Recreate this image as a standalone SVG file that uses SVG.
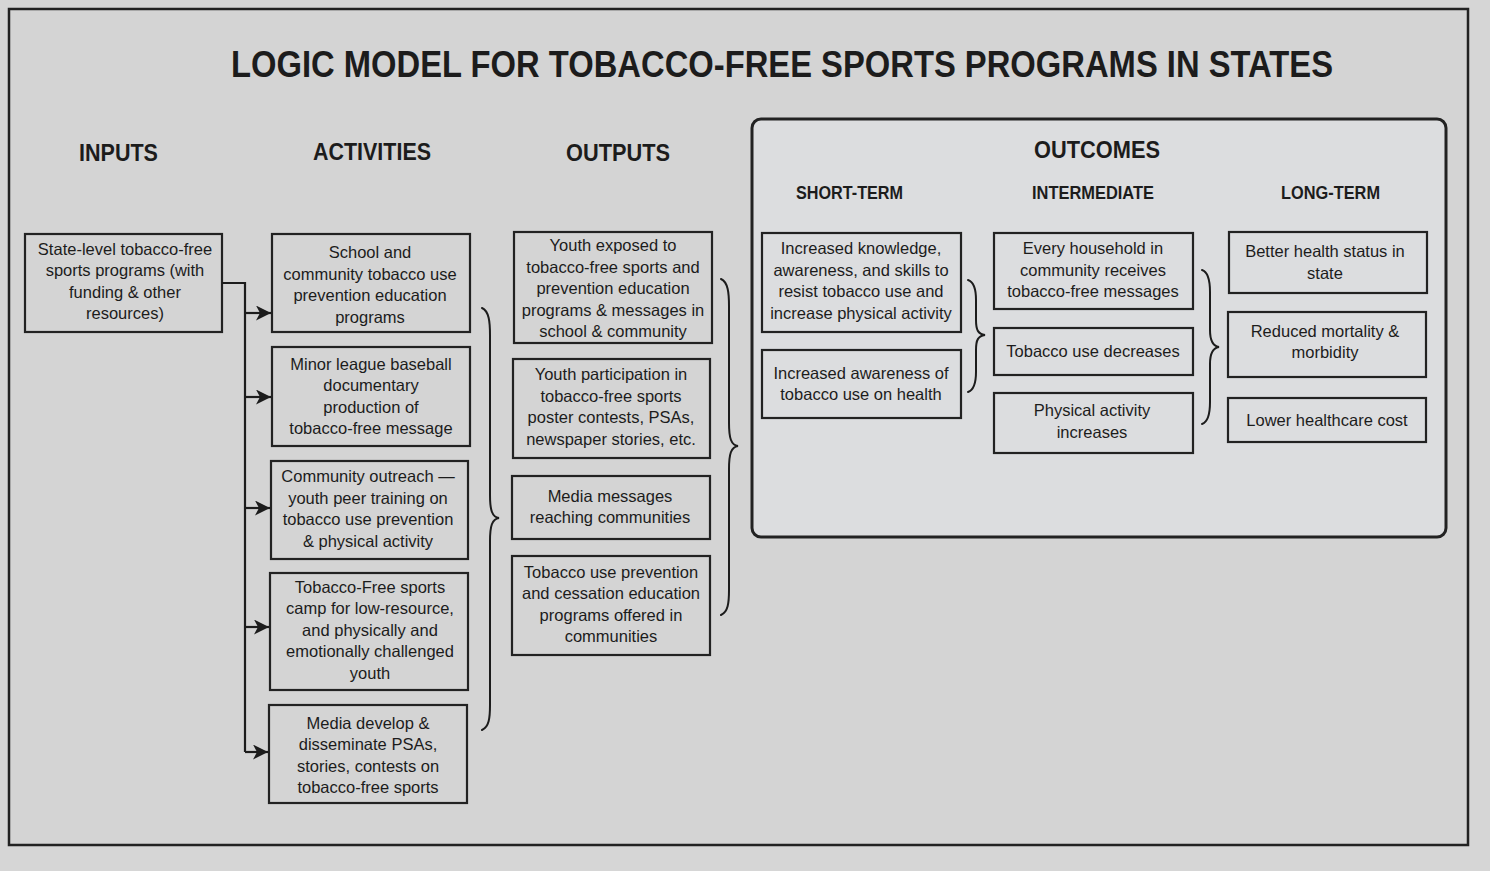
<svg xmlns="http://www.w3.org/2000/svg" width="1490" height="871" viewBox="0 0 1490 871">
  <style>
    .frame { fill: #d4d4d4; stroke: #222; stroke-width: 2.5; }
    .box { fill: none; stroke: #222; stroke-width: 2.2; }
    .txt { font-family: "Liberation Sans", Arial, sans-serif; font-size: 16.5px; fill: #1c1c1c; text-anchor: middle; }
    .hd { font-family: "Liberation Sans", Arial, sans-serif; font-weight: bold; fill: #1c1c1c; }
    .wire { fill: none; stroke: #1c1c1c; stroke-width: 2.2; }
    .brace { fill: none; stroke: #1c1c1c; stroke-width: 2; stroke-linecap: round; }
  </style>
  <defs>
    <marker id="arrow" viewBox="0 0 15 15" refX="15" refY="7.5" markerWidth="15" markerHeight="15" markerUnits="userSpaceOnUse" orient="auto">
      <path d="M0,0 L15,7.5 L0,15 L4,7.5 Z" fill="#1c1c1c"/>
    </marker>
  </defs>

  <!-- background and outer frame -->
  <rect x="0" y="0" width="1490" height="871" fill="#d6d6d6"/>
  <rect class="frame" x="9" y="9" width="1459" height="836"/>

  <!-- title and column headings -->
  <g id="title">
    <text class="hd" x="782" y="77" font-size="37" text-anchor="middle" textLength="1102" lengthAdjust="spacingAndGlyphs">LOGIC MODEL FOR TOBACCO-FREE SPORTS PROGRAMS IN STATES</text>
  </g>
  <g id="headings">
    <text class="hd" x="79" y="161" font-size="24" textLength="79" lengthAdjust="spacingAndGlyphs">INPUTS</text>
    <text class="hd" x="313" y="160" font-size="24" textLength="118" lengthAdjust="spacingAndGlyphs">ACTIVITIES</text>
    <text class="hd" x="566" y="161" font-size="24" textLength="104" lengthAdjust="spacingAndGlyphs">OUTPUTS</text>
  </g>

  <!-- outcomes panel -->
  <g id="outcomes-panel">
    <rect x="752" y="119" width="694" height="418" rx="9" fill="#dcdddf" stroke="#222" stroke-width="3"/>
    <text class="hd" x="1034" y="158" font-size="24" textLength="126" lengthAdjust="spacingAndGlyphs">OUTCOMES</text>
    <text class="hd" x="796" y="199" font-size="18" textLength="107" lengthAdjust="spacingAndGlyphs">SHORT-TERM</text>
    <text class="hd" x="1032" y="199" font-size="18" textLength="122" lengthAdjust="spacingAndGlyphs">INTERMEDIATE</text>
    <text class="hd" x="1281" y="199" font-size="18" textLength="99" lengthAdjust="spacingAndGlyphs">LONG-TERM</text>
  </g>

  <!-- inputs -->
  <g id="input-programs">
    <rect class="box" x="25" y="234" width="197" height="98"/>
    <text class="txt" x="125" y="255">State-level tobacco-free</text>
    <text class="txt" x="125" y="276">sports programs (with</text>
    <text class="txt" x="125" y="298">funding &amp; other</text>
    <text class="txt" x="125" y="319">resources)</text>
  </g>

  <!-- activities -->
  <g id="act-education">
    <rect class="box" x="272" y="234" width="198" height="98"/>
    <text class="txt" x="370" y="258">School and</text>
    <text class="txt" x="370" y="280">community tobacco use</text>
    <text class="txt" x="370" y="301">prevention education</text>
    <text class="txt" x="370" y="323">programs</text>
  </g>
  <g id="act-baseball">
    <rect class="box" x="272" y="347" width="198" height="99"/>
    <text class="txt" x="371" y="370">Minor league baseball</text>
    <text class="txt" x="371" y="391">documentary</text>
    <text class="txt" x="371" y="413">production of</text>
    <text class="txt" x="371" y="434">tobacco-free message</text>
  </g>
  <g id="act-outreach">
    <rect class="box" x="271" y="461" width="197" height="98"/>
    <text class="txt" x="368" y="482">Community outreach —</text>
    <text class="txt" x="368" y="504">youth peer training on</text>
    <text class="txt" x="368" y="525">tobacco use prevention</text>
    <text class="txt" x="368" y="547">&amp; physical activity</text>
  </g>
  <g id="act-camp">
    <rect class="box" x="270" y="573" width="198" height="117"/>
    <text class="txt" x="370" y="593">Tobacco-Free sports</text>
    <text class="txt" x="370" y="614">camp for low-resource,</text>
    <text class="txt" x="370" y="636">and physically and</text>
    <text class="txt" x="370" y="657">emotionally challenged</text>
    <text class="txt" x="370" y="679">youth</text>
  </g>
  <g id="act-media">
    <rect class="box" x="269" y="705" width="198" height="98"/>
    <text class="txt" x="368" y="729">Media develop &amp;</text>
    <text class="txt" x="368" y="750">disseminate PSAs,</text>
    <text class="txt" x="368" y="772">stories, contests on</text>
    <text class="txt" x="368" y="793">tobacco-free sports</text>
  </g>

  <!-- outputs -->
  <g id="out-exposed">
    <rect class="box" x="514" y="232" width="198" height="111"/>
    <text class="txt" x="613" y="251">Youth exposed to</text>
    <text class="txt" x="613" y="273">tobacco-free sports and</text>
    <text class="txt" x="613" y="294">prevention education</text>
    <text class="txt" x="613" y="316">programs &amp; messages in</text>
    <text class="txt" x="613" y="337">school &amp; community</text>
  </g>
  <g id="out-participation">
    <rect class="box" x="513" y="359" width="197" height="99"/>
    <text class="txt" x="611" y="380">Youth participation in</text>
    <text class="txt" x="611" y="402">tobacco-free sports</text>
    <text class="txt" x="611" y="423">poster contests, PSAs,</text>
    <text class="txt" x="611" y="445">newspaper stories, etc.</text>
  </g>
  <g id="out-media">
    <rect class="box" x="512" y="476" width="198" height="63"/>
    <text class="txt" x="610" y="502">Media messages</text>
    <text class="txt" x="610" y="523">reaching communities</text>
  </g>
  <g id="out-cessation">
    <rect class="box" x="512" y="556" width="198" height="99"/>
    <text class="txt" x="611" y="578">Tobacco use prevention</text>
    <text class="txt" x="611" y="599">and cessation education</text>
    <text class="txt" x="611" y="621">programs offered in</text>
    <text class="txt" x="611" y="642">communities</text>
  </g>

  <!-- short-term outcomes -->
  <g id="st-knowledge">
    <rect class="box" x="762" y="233" width="199" height="99"/>
    <text class="txt" x="861" y="254">Increased knowledge,</text>
    <text class="txt" x="861" y="276">awareness, and skills to</text>
    <text class="txt" x="861" y="297">resist tobacco use and</text>
    <text class="txt" x="861" y="319">increase physical activity</text>
  </g>
  <g id="st-awareness">
    <rect class="box" x="762" y="350" width="199" height="68"/>
    <text class="txt" x="861" y="379">Increased awareness of</text>
    <text class="txt" x="861" y="400">tobacco use on health</text>
  </g>

  <!-- intermediate outcomes -->
  <g id="im-household">
    <rect class="box" x="994" y="233" width="199" height="76"/>
    <text class="txt" x="1093" y="254">Every household in</text>
    <text class="txt" x="1093" y="276">community receives</text>
    <text class="txt" x="1093" y="297">tobacco-free messages</text>
  </g>
  <g id="im-tobacco">
    <rect class="box" x="994" y="328" width="199" height="47"/>
    <text class="txt" x="1093" y="357">Tobacco use decreases</text>
  </g>
  <g id="im-activity">
    <rect class="box" x="994" y="393" width="199" height="60"/>
    <text class="txt" x="1092" y="416">Physical activity</text>
    <text class="txt" x="1092" y="438">increases</text>
  </g>

  <!-- long-term outcomes -->
  <g id="lt-health">
    <rect class="box" x="1229" y="232" width="198" height="61"/>
    <text class="txt" x="1325" y="257">Better health status in</text>
    <text class="txt" x="1325" y="279">state</text>
  </g>
  <g id="lt-mortality">
    <rect class="box" x="1228" y="312" width="198" height="65"/>
    <text class="txt" x="1325" y="337">Reduced mortality &amp;</text>
    <text class="txt" x="1325" y="358">morbidity</text>
  </g>
  <g id="lt-cost">
    <rect class="box" x="1228" y="398" width="198" height="44"/>
    <text class="txt" x="1327" y="426">Lower healthcare cost</text>
  </g>

  <!-- connectors: input trunk, arrows and grouping braces -->
  <g id="connectors">
    <path class="wire" d="M222,283 H245 V752"/>
    <line class="wire" x1="245" y1="313" x2="271" y2="313" marker-end="url(#arrow)"/>
    <line class="wire" x1="245" y1="397" x2="271" y2="397" marker-end="url(#arrow)"/>
    <line class="wire" x1="245" y1="508" x2="270" y2="508" marker-end="url(#arrow)"/>
    <line class="wire" x1="245" y1="627" x2="269" y2="627" marker-end="url(#arrow)"/>
    <line class="wire" x1="245" y1="752" x2="268" y2="752" marker-end="url(#arrow)"/>

    <path class="brace" d="M482,308 C489,311 490,322 490,335 L490,495 C490,510 492,517 499,518 C492,519 490,526 490,541 L490,705 C490,718 489,727 482,730"/>
    <path class="brace" d="M721,279 C728,282 729,293 729,306 L729,423 C729,438 731,445 738,446 C731,447 729,454 729,469 L729,590 C729,603 728,612 721,615"/>
    <path class="brace" d="M968,280 C974,282 976,290 976,300 L976,320 C976,330 978,334 985,335 C978,336 976,340 976,350 L976,372 C976,382 974,390 968,392"/>
    <path class="brace" d="M1202,270 C1208,272 1210,280 1210,292 L1210,330 C1210,340 1212,346 1219,347 C1212,348 1210,354 1210,364 L1210,402 C1210,414 1208,422 1202,424"/>
  </g>
</svg>
